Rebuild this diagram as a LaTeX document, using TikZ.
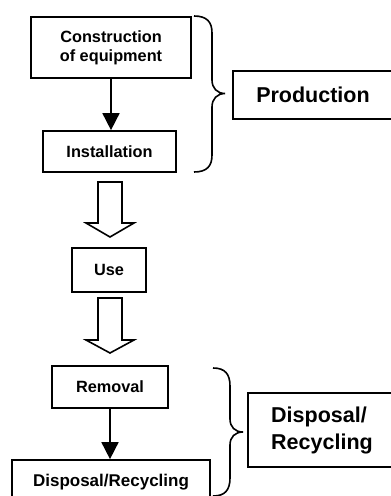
\documentclass[tikz,border=0pt]{standalone}
\usepackage{fontspec}
\setmainfont{Liberation Sans}
\usetikzlibrary{arrows.meta}
\begin{document}
\begin{tikzpicture}[x=1pt,y=-1pt,
  box/.style={draw,line width=1.7pt,inner sep=0pt,align=center,font=\fontsize{16.3}{19}\selectfont\bfseries},
  bigbox/.style={draw,line width=1.7pt,inner sep=0pt,font=\fontsize{21.5}{27}\selectfont\bfseries},
  flow/.style={line width=1.7pt,-{Triangle[length=17pt,width=17pt]}},
  hollow/.style={draw,line width=1.6pt,line join=miter},
  brace/.style={draw,line width=1.6pt}]
\path[use as bounding box] (0,0) rectangle (391,496);
\clip (0,0) rectangle (391,496);
% step boxes
\node[box,minimum width=160pt,minimum height=61pt] (cons) at (111,47.5) {Construction\\of equipment};
\node[box,minimum width=133pt,minimum height=41pt] (inst) at (109.5,151.5) {Installation};
\node[box,minimum width=74pt,minimum height=44pt] (use) at (109,270) {Use};
\node[box,minimum width=116pt,minimum height=42pt] (rem) at (110,387) {Removal};
\node[box,minimum width=198pt,minimum height=44pt,font=\fontsize{17}{20}\selectfont\bfseries] (disp) at (111,482) {Disposal/Recycling};
% phase boxes
\node[bigbox,minimum width=160pt,minimum height=48pt] (prod) at (313,95) {Production};
\node[bigbox,minimum width=148pt,minimum height=74pt,align=left] (recy) at (322,430) {Disposal/\\Recycling};
% thin arrows
\draw[flow] (cons.south) -- (cons.south |- inst.north);
\draw[flow] (rem.south) -- (rem.south |- disp.north);
% hollow arrows
\coordinate (a1s) at (110,182);
\coordinate (a1t) at (110,237);
\coordinate (a2s) at (110,298);
\coordinate (a2t) at (110,353);
\draw[hollow] (a1s) ++(-12,0) -- ++(0,41) -- ++(-12,0) -- (a1t) -- ++(24,-14) -- ++(-12,0) -- ++(0,-41) -- cycle;
\draw[hollow] (a2s) ++(-12,0) -- ++(0,42) -- ++(-12,0) -- (a2t) -- ++(24,-13) -- ++(-12,0) -- ++(0,-42) -- cycle;
% braces
\draw[brace] (194,16) .. controls (207,16) and (212,22) .. (212,33) -- (212,80)
  .. controls (212,88) and (217,93.5) .. (225,93.5)
  .. controls (217,93.5) and (212,99) .. (212,107) -- (212,155)
  .. controls (212,166) and (207,172) .. (194,172);
\draw[brace] (213,368) .. controls (225,368) and (230,374) .. (230,386) -- (230,419)
  .. controls (230,427) and (235,432) .. (243,432)
  .. controls (235,432) and (230,437) .. (230,445) -- (230,478)
  .. controls (230,490) and (225,496) .. (213,496);
\end{tikzpicture}
\end{document}
